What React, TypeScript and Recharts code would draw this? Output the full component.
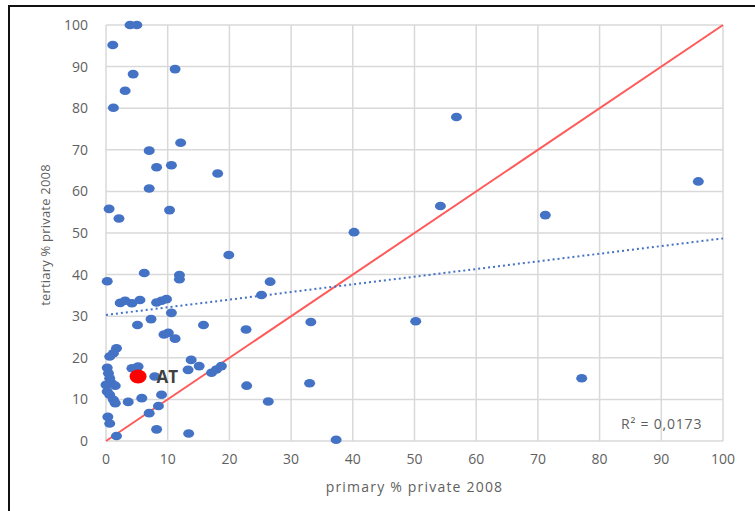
import React from "react"
import {
    ScatterChart,
    Scatter,
    XAxis,
    YAxis,
    CartesianGrid,
    ReferenceLine,
    LabelList,
} from "recharts"

// primary % private 2008 (x) and tertiary % private 2008 (y), one entry per country
const primaryShare = [
    3.9, 5.0, 1.1, 4.4, 11.2, 3.1, 1.2, 12.1, 7, 10.6, 8.2, 18.1, 7, 0.5, 10.3, 2.1,
    56.8, 96, 54.2, 71.2, 40.2, 19.9,
    6.2, 11.9, 11.9, 0.2, 26.6, 25.2,
    2.3, 3.1, 4.2, 5.5, 8.2, 9.0, 9.8, 10.6, 7.3, 5.1, 15.8, 22.7, 33.2, 50.2, 9.4, 10.1, 11.2,
    1.7, 1.2, 0.6, 0.2, 5.2, 4.2, 7.9, 13.8, 13.3, 15.1, 17.1, 17.9, 18.7,
    0.4, 0.6, 0, 0.9, 1.5, 0.2, 0.6, 1.2, 1.5, 3.6, 5.8, 9, 22.8, 33, 77.1, 26.3, 8.5, 7,
    0.3, 0.6, 1.7, 8.2, 13.4, 37.3,
]
const tertiaryShare = [
    100, 100, 95.2, 88.2, 89.4, 84.2, 80.1, 71.7, 69.8, 66.3, 65.8, 64.3, 60.7, 55.8, 55.5, 53.5,
    77.9, 62.4, 56.5, 54.3, 50.2, 44.7,
    40.4, 39.9, 38.9, 38.4, 38.3, 35.1,
    33.2, 33.7, 33.1, 33.9, 33.3, 33.7, 34.1, 30.8, 29.3, 27.9, 27.9, 26.8, 28.6, 28.8, 25.6, 26.0, 24.6,
    22.3, 21.1, 20.3, 17.6, 17.9, 17.5, 15.5, 19.5, 17.1, 18.0, 16.4, 17.2, 18.0,
    16.3, 15.1, 13.5, 13.9, 13.3, 11.9, 11.1, 9.9, 9.1, 9.4, 10.3, 11.1, 13.3, 13.9, 15.1, 9.5, 8.4, 6.7,
    5.8, 4.2, 1.2, 2.8, 1.8, 0.3,
]

const highlightName = ["AT"]
const highlightX = [5.2]
const highlightY = [15.5]

// linear trend of the blue points, read at both ends of the axis
const trendX = [0, 100]
const trendY = [30.3, 48.7]

const ticks = [0, 10, 20, 30, 40, 50, 60, 70, 80, 90, 100]

const points = primaryShare.map((x, i) => ({ x, y: tertiaryShare[i] }))
const highlight = highlightX.map((x, i) => ({ x, y: highlightY[i], name: highlightName[i] }))
const trend = trendX.map((x, i) => ({ x, y: trendY[i] }))

const textColor = "#5f5f5f"
const font = "'Open Sans', sans-serif"

export default function App() {
    return (
        <div style={{ position: "absolute", left: 0, top: 0, width: 755, height: 511, background: "#fff", fontFamily: font }}>
            <div
                style={{
                    position: "absolute",
                    left: 8,
                    top: 5,
                    width: 760,
                    height: 520,
                    borderTop: "2px solid #111",
                    borderLeft: "2px solid #111",
                }}
            />
            <div style={{ position: "absolute", left: 0, top: 0 }}>
                <ScatterChart width={755} height={511} margin={{ top: 25, right: 32, bottom: 40, left: 46 }}>
                    <CartesianGrid stroke="#d9d9d9" strokeWidth={1.5} />
                    <XAxis
                        type="number"
                        dataKey="x"
                        domain={[0, 100]}
                        ticks={ticks}
                        interval={0}
                        height={30}
                        axisLine={false}
                        tickLine={false}
                        tickMargin={7}
                        tick={{ fill: textColor, fontSize: 14, fontFamily: font }}
                    />
                    <YAxis
                        type="number"
                        dataKey="y"
                        domain={[0, 100]}
                        ticks={ticks}
                        interval={0}
                        width={60}
                        axisLine={false}
                        tickLine={false}
                        tickMargin={12}
                        tick={{ fill: textColor, fontSize: 14, fontFamily: font }}
                    />
                    <ReferenceLine
                        segment={[{ x: 0, y: 0 }, { x: 100, y: 100 }]}
                        stroke="#ff5a5a"
                        strokeWidth={2}
                        ifOverflow="visible"
                    />
                    <Scatter
                        data={trend}
                        line={{ stroke: "#4472c4", strokeWidth: 2, strokeDasharray: "2 3" }}
                        shape={() => <g />}
                        isAnimationActive={false}
                    />
                    <Scatter
                        data={points}
                        fill="#4472c4"
                        isAnimationActive={false}
                        shape={(p: any) => <ellipse cx={p.cx} cy={p.cy} rx={5.5} ry={4.3} fill="#4472c4" />}
                    />
                    <Scatter
                        data={highlight}
                        fill="#ff0000"
                        isAnimationActive={false}
                        shape={(p: any) => <ellipse cx={p.cx} cy={p.cy} rx={8.5} ry={7} fill="#ff0000" />}
                    >
                        <LabelList
                            dataKey="name"
                            position="right"
                            offset={14}
                            fill="#404040"
                            fontSize={17}
                            fontWeight="bold"
                            fontFamily={font}
                        />
                    </Scatter>
                </ScatterChart>
            </div>
            <div
                style={{
                    position: "absolute",
                    left: 106,
                    width: 617,
                    top: 477,
                    textAlign: "center",
                    color: textColor,
                    fontSize: 14,
                    letterSpacing: 1.2,
                }}
            >
                primary % private 2008
            </div>
            <div
                style={{
                    position: "absolute",
                    left: 45,
                    top: 235,
                    transform: "translate(-50%, -50%) rotate(-90deg)",
                    whiteSpace: "nowrap",
                    color: textColor,
                    fontSize: 13,
                    letterSpacing: 0.2,
                }}
            >
                tertiary % private 2008
            </div>
            <div
                style={{
                    position: "absolute",
                    left: 621,
                    top: 414,
                    color: textColor,
                    fontSize: 14,
                    letterSpacing: 0.8,
                    whiteSpace: "nowrap",
                }}
            >
                R² = 0,0173
            </div>
        </div>
    )
}
